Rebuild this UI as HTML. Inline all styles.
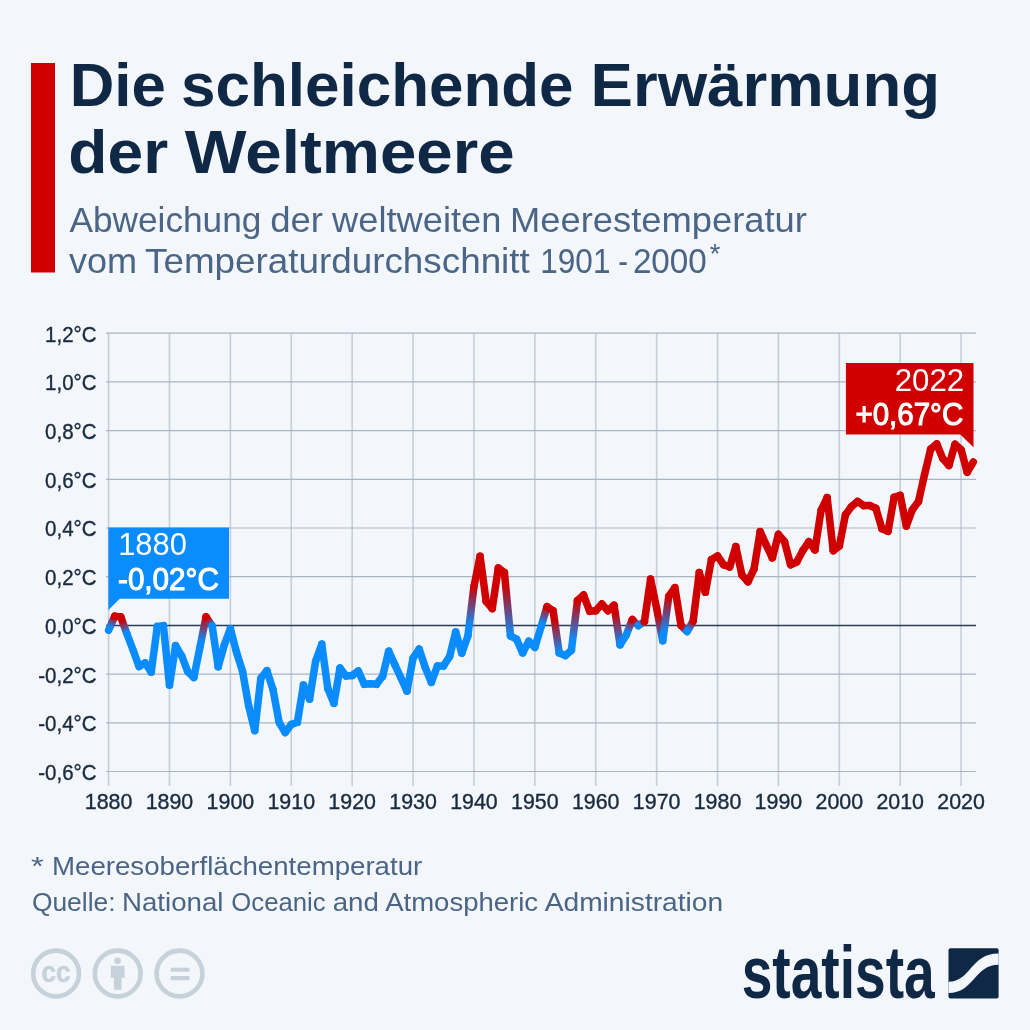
<!DOCTYPE html>
<html><head><meta charset="utf-8"><style>
html,body{margin:0;padding:0;background:#f3f6fa;width:1030px;height:1030px;overflow:hidden;font-family:"Liberation Sans",sans-serif;}
svg{display:block;will-change:transform}
</style></head><body>
<svg width="1030" height="1030" viewBox="0 0 1030 1030"><g stroke="#c6ced9" stroke-width="1.6"><line x1="108.6" y1="333" x2="108.6" y2="786"/><line x1="169.493" y1="333" x2="169.493" y2="786"/><line x1="230.386" y1="333" x2="230.386" y2="786"/><line x1="291.279" y1="333" x2="291.279" y2="786"/><line x1="352.172" y1="333" x2="352.172" y2="786"/><line x1="413.06499999999994" y1="333" x2="413.06499999999994" y2="786"/><line x1="473.95799999999997" y1="333" x2="473.95799999999997" y2="786"/><line x1="534.851" y1="333" x2="534.851" y2="786"/><line x1="595.744" y1="333" x2="595.744" y2="786"/><line x1="656.637" y1="333" x2="656.637" y2="786"/><line x1="717.53" y1="333" x2="717.53" y2="786"/><line x1="778.423" y1="333" x2="778.423" y2="786"/><line x1="839.316" y1="333" x2="839.316" y2="786"/><line x1="900.209" y1="333" x2="900.209" y2="786"/><line x1="961.102" y1="333" x2="961.102" y2="786"/></g>
<g stroke="#aab5c3" stroke-width="1.2"><line x1="106" y1="333.2" x2="976" y2="333.2"/><line x1="106" y1="381.9" x2="976" y2="381.9"/><line x1="106" y1="430.6" x2="976" y2="430.6"/><line x1="106" y1="479.3" x2="976" y2="479.3"/><line x1="106" y1="528.0" x2="976" y2="528.0"/><line x1="106" y1="576.7" x2="976" y2="576.7"/><line x1="106" y1="674.1" x2="976" y2="674.1"/><line x1="106" y1="722.8" x2="976" y2="722.8"/><line x1="106" y1="771.5" x2="976" y2="771.5"/></g>
<line x1="106" y1="625.4" x2="976" y2="625.4" stroke="#2b3d53" stroke-width="1.5"/>
<g font-family="Liberation Sans, sans-serif" font-size="22.5" fill="#1a2b40" stroke="#1a2b40" stroke-width="0.4"><text x="96.5" y="341.7" text-anchor="end" transform="translate(96.5 0) scale(0.91 1) translate(-96.5 0)">1,2°C</text><text x="96.5" y="390.4" text-anchor="end" transform="translate(96.5 0) scale(0.91 1) translate(-96.5 0)">1,0°C</text><text x="96.5" y="439.1" text-anchor="end" transform="translate(96.5 0) scale(0.91 1) translate(-96.5 0)">0,8°C</text><text x="96.5" y="487.8" text-anchor="end" transform="translate(96.5 0) scale(0.91 1) translate(-96.5 0)">0,6°C</text><text x="96.5" y="536.5" text-anchor="end" transform="translate(96.5 0) scale(0.91 1) translate(-96.5 0)">0,4°C</text><text x="96.5" y="585.2" text-anchor="end" transform="translate(96.5 0) scale(0.91 1) translate(-96.5 0)">0,2°C</text><text x="96.5" y="633.9" text-anchor="end" transform="translate(96.5 0) scale(0.91 1) translate(-96.5 0)">0,0°C</text><text x="96.5" y="682.6" text-anchor="end" transform="translate(96.5 0) scale(0.91 1) translate(-96.5 0)">-0,2°C</text><text x="96.5" y="731.3" text-anchor="end" transform="translate(96.5 0) scale(0.91 1) translate(-96.5 0)">-0,4°C</text><text x="96.5" y="780.0" text-anchor="end" transform="translate(96.5 0) scale(0.91 1) translate(-96.5 0)">-0,6°C</text><text x="108.60" y="809.4" text-anchor="middle" transform="translate(108.60 0) scale(0.951 1) translate(-108.60 0)">1880</text><text x="169.49" y="809.4" text-anchor="middle" transform="translate(169.49 0) scale(0.951 1) translate(-169.49 0)">1890</text><text x="230.39" y="809.4" text-anchor="middle" transform="translate(230.39 0) scale(0.951 1) translate(-230.39 0)">1900</text><text x="291.28" y="809.4" text-anchor="middle" transform="translate(291.28 0) scale(0.951 1) translate(-291.28 0)">1910</text><text x="352.17" y="809.4" text-anchor="middle" transform="translate(352.17 0) scale(0.951 1) translate(-352.17 0)">1920</text><text x="413.06" y="809.4" text-anchor="middle" transform="translate(413.06 0) scale(0.951 1) translate(-413.06 0)">1930</text><text x="473.96" y="809.4" text-anchor="middle" transform="translate(473.96 0) scale(0.951 1) translate(-473.96 0)">1940</text><text x="534.85" y="809.4" text-anchor="middle" transform="translate(534.85 0) scale(0.951 1) translate(-534.85 0)">1950</text><text x="595.74" y="809.4" text-anchor="middle" transform="translate(595.74 0) scale(0.951 1) translate(-595.74 0)">1960</text><text x="656.64" y="809.4" text-anchor="middle" transform="translate(656.64 0) scale(0.951 1) translate(-656.64 0)">1970</text><text x="717.53" y="809.4" text-anchor="middle" transform="translate(717.53 0) scale(0.951 1) translate(-717.53 0)">1980</text><text x="778.42" y="809.4" text-anchor="middle" transform="translate(778.42 0) scale(0.951 1) translate(-778.42 0)">1990</text><text x="839.32" y="809.4" text-anchor="middle" transform="translate(839.32 0) scale(0.951 1) translate(-839.32 0)">2000</text><text x="900.21" y="809.4" text-anchor="middle" transform="translate(900.21 0) scale(0.951 1) translate(-900.21 0)">2010</text><text x="961.10" y="809.4" text-anchor="middle" transform="translate(961.10 0) scale(0.951 1) translate(-961.10 0)">2020</text></g>
<defs><linearGradient id="g0" gradientUnits="userSpaceOnUse" x1="108.60" y1="630.27" x2="114.69" y2="616.15"><stop offset="0.2" stop-color="#0b8cfd"/><stop offset="1" stop-color="#d00000"/></linearGradient><linearGradient id="g1" gradientUnits="userSpaceOnUse" x1="120.78" y1="616.88" x2="126.87" y2="633.68"><stop offset="0.2" stop-color="#d00000"/><stop offset="1" stop-color="#0b8cfd"/></linearGradient><linearGradient id="g2" gradientUnits="userSpaceOnUse" x1="199.94" y1="647.31" x2="206.03" y2="616.88"><stop offset="0.2" stop-color="#0b8cfd"/><stop offset="1" stop-color="#d00000"/></linearGradient><linearGradient id="g3" gradientUnits="userSpaceOnUse" x1="206.03" y1="616.88" x2="212.12" y2="625.89"><stop offset="0.2" stop-color="#d00000"/><stop offset="1" stop-color="#0b8cfd"/></linearGradient><linearGradient id="g4" gradientUnits="userSpaceOnUse" x1="467.87" y1="636.11" x2="473.96" y2="586.44"><stop offset="0.2" stop-color="#0b8cfd"/><stop offset="1" stop-color="#d00000"/></linearGradient><linearGradient id="g5" gradientUnits="userSpaceOnUse" x1="504.40" y1="572.56" x2="510.49" y2="635.87"><stop offset="0.2" stop-color="#d00000"/><stop offset="1" stop-color="#0b8cfd"/></linearGradient><linearGradient id="g6" gradientUnits="userSpaceOnUse" x1="540.94" y1="627.10" x2="547.03" y2="606.65"><stop offset="0.2" stop-color="#0b8cfd"/><stop offset="1" stop-color="#d00000"/></linearGradient><linearGradient id="g7" gradientUnits="userSpaceOnUse" x1="553.12" y1="610.79" x2="559.21" y2="652.92"><stop offset="0.2" stop-color="#d00000"/><stop offset="1" stop-color="#0b8cfd"/></linearGradient><linearGradient id="g8" gradientUnits="userSpaceOnUse" x1="571.39" y1="650.24" x2="577.48" y2="600.56"><stop offset="0.2" stop-color="#0b8cfd"/><stop offset="1" stop-color="#d00000"/></linearGradient><linearGradient id="g9" gradientUnits="userSpaceOnUse" x1="614.01" y1="605.19" x2="620.10" y2="644.88"><stop offset="0.2" stop-color="#d00000"/><stop offset="1" stop-color="#0b8cfd"/></linearGradient><linearGradient id="g10" gradientUnits="userSpaceOnUse" x1="626.19" y1="635.14" x2="632.28" y2="619.56"><stop offset="0.2" stop-color="#0b8cfd"/><stop offset="1" stop-color="#d00000"/></linearGradient><linearGradient id="g11" gradientUnits="userSpaceOnUse" x1="632.28" y1="619.56" x2="638.37" y2="625.64"><stop offset="0.2" stop-color="#d00000"/><stop offset="1" stop-color="#0b8cfd"/></linearGradient><linearGradient id="g12" gradientUnits="userSpaceOnUse" x1="638.37" y1="625.64" x2="644.46" y2="621.50"><stop offset="0.2" stop-color="#0b8cfd"/><stop offset="1" stop-color="#d00000"/></linearGradient><linearGradient id="g13" gradientUnits="userSpaceOnUse" x1="656.64" y1="608.36" x2="662.73" y2="640.74"><stop offset="0.2" stop-color="#d00000"/><stop offset="1" stop-color="#0b8cfd"/></linearGradient><linearGradient id="g14" gradientUnits="userSpaceOnUse" x1="662.73" y1="640.74" x2="668.82" y2="596.18"><stop offset="0.2" stop-color="#0b8cfd"/><stop offset="1" stop-color="#d00000"/></linearGradient><linearGradient id="g15" gradientUnits="userSpaceOnUse" x1="680.99" y1="625.40" x2="687.08" y2="631.49"><stop offset="0.2" stop-color="#d00000"/><stop offset="1" stop-color="#0b8cfd"/></linearGradient><linearGradient id="g16" gradientUnits="userSpaceOnUse" x1="687.08" y1="631.49" x2="693.17" y2="621.02"><stop offset="0.2" stop-color="#0b8cfd"/><stop offset="1" stop-color="#d00000"/></linearGradient></defs>
<g stroke-width="7.5" stroke-linecap="round">
<line x1="108.60" y1="630.27" x2="114.69" y2="616.15" stroke="url(#g0)"/>
<line x1="114.69" y1="616.15" x2="120.78" y2="616.88" stroke="#d00000"/>
<line x1="120.78" y1="616.88" x2="126.87" y2="633.68" stroke="url(#g1)"/>
<line x1="126.87" y1="633.68" x2="132.96" y2="649.75" stroke="#0b8cfd"/>
<line x1="132.96" y1="649.75" x2="139.05" y2="666.55" stroke="#0b8cfd"/>
<line x1="139.05" y1="666.55" x2="145.14" y2="662.90" stroke="#0b8cfd"/>
<line x1="145.14" y1="662.90" x2="151.23" y2="672.15" stroke="#0b8cfd"/>
<line x1="151.23" y1="672.15" x2="157.31" y2="626.37" stroke="#0b8cfd"/>
<line x1="157.31" y1="626.37" x2="163.40" y2="625.64" stroke="#0b8cfd"/>
<line x1="163.40" y1="625.64" x2="169.49" y2="685.06" stroke="#0b8cfd"/>
<line x1="169.49" y1="685.06" x2="175.58" y2="645.61" stroke="#0b8cfd"/>
<line x1="175.58" y1="645.61" x2="181.67" y2="655.84" stroke="#0b8cfd"/>
<line x1="181.67" y1="655.84" x2="187.76" y2="671.66" stroke="#0b8cfd"/>
<line x1="187.76" y1="671.66" x2="193.85" y2="677.51" stroke="#0b8cfd"/>
<line x1="193.85" y1="677.51" x2="199.94" y2="647.31" stroke="#0b8cfd"/>
<line x1="199.94" y1="647.31" x2="206.03" y2="616.88" stroke="url(#g2)"/>
<line x1="206.03" y1="616.88" x2="212.12" y2="625.89" stroke="url(#g3)"/>
<line x1="212.12" y1="625.89" x2="218.21" y2="666.79" stroke="#0b8cfd"/>
<line x1="218.21" y1="666.79" x2="224.30" y2="644.88" stroke="#0b8cfd"/>
<line x1="224.30" y1="644.88" x2="230.39" y2="628.57" stroke="#0b8cfd"/>
<line x1="230.39" y1="628.57" x2="236.48" y2="652.18" stroke="#0b8cfd"/>
<line x1="236.48" y1="652.18" x2="242.56" y2="671.42" stroke="#0b8cfd"/>
<line x1="242.56" y1="671.42" x2="248.65" y2="705.75" stroke="#0b8cfd"/>
<line x1="248.65" y1="705.75" x2="254.74" y2="730.59" stroke="#0b8cfd"/>
<line x1="254.74" y1="730.59" x2="260.83" y2="678.24" stroke="#0b8cfd"/>
<line x1="260.83" y1="678.24" x2="266.92" y2="670.69" stroke="#0b8cfd"/>
<line x1="266.92" y1="670.69" x2="273.01" y2="689.68" stroke="#0b8cfd"/>
<line x1="273.01" y1="689.68" x2="279.10" y2="722.31" stroke="#0b8cfd"/>
<line x1="279.10" y1="722.31" x2="285.19" y2="732.54" stroke="#0b8cfd"/>
<line x1="285.19" y1="732.54" x2="291.28" y2="724.50" stroke="#0b8cfd"/>
<line x1="291.28" y1="724.50" x2="297.37" y2="722.31" stroke="#0b8cfd"/>
<line x1="297.37" y1="722.31" x2="303.46" y2="685.06" stroke="#0b8cfd"/>
<line x1="303.46" y1="685.06" x2="309.55" y2="699.18" stroke="#0b8cfd"/>
<line x1="309.55" y1="699.18" x2="315.64" y2="661.19" stroke="#0b8cfd"/>
<line x1="315.64" y1="661.19" x2="321.73" y2="644.15" stroke="#0b8cfd"/>
<line x1="321.73" y1="644.15" x2="327.81" y2="688.47" stroke="#0b8cfd"/>
<line x1="327.81" y1="688.47" x2="333.90" y2="703.32" stroke="#0b8cfd"/>
<line x1="333.90" y1="703.32" x2="339.99" y2="668.01" stroke="#0b8cfd"/>
<line x1="339.99" y1="668.01" x2="346.08" y2="676.05" stroke="#0b8cfd"/>
<line x1="346.08" y1="676.05" x2="352.17" y2="675.56" stroke="#0b8cfd"/>
<line x1="352.17" y1="675.56" x2="358.26" y2="670.93" stroke="#0b8cfd"/>
<line x1="358.26" y1="670.93" x2="364.35" y2="684.33" stroke="#0b8cfd"/>
<line x1="364.35" y1="684.33" x2="370.44" y2="683.84" stroke="#0b8cfd"/>
<line x1="370.44" y1="683.84" x2="376.53" y2="684.33" stroke="#0b8cfd"/>
<line x1="376.53" y1="684.33" x2="382.62" y2="676.29" stroke="#0b8cfd"/>
<line x1="382.62" y1="676.29" x2="388.71" y2="651.21" stroke="#0b8cfd"/>
<line x1="388.71" y1="651.21" x2="394.80" y2="664.60" stroke="#0b8cfd"/>
<line x1="394.80" y1="664.60" x2="400.89" y2="677.75" stroke="#0b8cfd"/>
<line x1="400.89" y1="677.75" x2="406.98" y2="691.14" stroke="#0b8cfd"/>
<line x1="406.98" y1="691.14" x2="413.06" y2="658.03" stroke="#0b8cfd"/>
<line x1="413.06" y1="658.03" x2="419.15" y2="649.02" stroke="#0b8cfd"/>
<line x1="419.15" y1="649.02" x2="425.24" y2="667.53" stroke="#0b8cfd"/>
<line x1="425.24" y1="667.53" x2="431.33" y2="682.38" stroke="#0b8cfd"/>
<line x1="431.33" y1="682.38" x2="437.42" y2="666.06" stroke="#0b8cfd"/>
<line x1="437.42" y1="666.06" x2="443.51" y2="666.06" stroke="#0b8cfd"/>
<line x1="443.51" y1="666.06" x2="449.60" y2="656.57" stroke="#0b8cfd"/>
<line x1="449.60" y1="656.57" x2="455.69" y2="631.97" stroke="#0b8cfd"/>
<line x1="455.69" y1="631.97" x2="461.78" y2="653.16" stroke="#0b8cfd"/>
<line x1="461.78" y1="653.16" x2="467.87" y2="636.11" stroke="#0b8cfd"/>
<line x1="467.87" y1="636.11" x2="473.96" y2="586.44" stroke="url(#g4)"/>
<line x1="473.96" y1="586.44" x2="480.05" y2="556.25" stroke="#d00000"/>
<line x1="480.05" y1="556.25" x2="486.14" y2="601.29" stroke="#d00000"/>
<line x1="486.14" y1="601.29" x2="492.23" y2="608.60" stroke="#d00000"/>
<line x1="492.23" y1="608.60" x2="498.32" y2="567.93" stroke="#d00000"/>
<line x1="498.32" y1="567.93" x2="504.40" y2="572.56" stroke="#d00000"/>
<line x1="504.40" y1="572.56" x2="510.49" y2="635.87" stroke="url(#g5)"/>
<line x1="510.49" y1="635.87" x2="516.58" y2="639.28" stroke="#0b8cfd"/>
<line x1="516.58" y1="639.28" x2="522.67" y2="652.92" stroke="#0b8cfd"/>
<line x1="522.67" y1="652.92" x2="528.76" y2="641.23" stroke="#0b8cfd"/>
<line x1="528.76" y1="641.23" x2="534.85" y2="647.31" stroke="#0b8cfd"/>
<line x1="534.85" y1="647.31" x2="540.94" y2="627.10" stroke="#0b8cfd"/>
<line x1="540.94" y1="627.10" x2="547.03" y2="606.65" stroke="url(#g6)"/>
<line x1="547.03" y1="606.65" x2="553.12" y2="610.79" stroke="#d00000"/>
<line x1="553.12" y1="610.79" x2="559.21" y2="652.92" stroke="url(#g7)"/>
<line x1="559.21" y1="652.92" x2="565.30" y2="655.59" stroke="#0b8cfd"/>
<line x1="565.30" y1="655.59" x2="571.39" y2="650.24" stroke="#0b8cfd"/>
<line x1="571.39" y1="650.24" x2="577.48" y2="600.56" stroke="url(#g8)"/>
<line x1="577.48" y1="600.56" x2="583.57" y2="594.96" stroke="#d00000"/>
<line x1="583.57" y1="594.96" x2="589.65" y2="611.28" stroke="#d00000"/>
<line x1="589.65" y1="611.28" x2="595.74" y2="610.79" stroke="#d00000"/>
<line x1="595.74" y1="610.79" x2="601.83" y2="603.97" stroke="#d00000"/>
<line x1="601.83" y1="603.97" x2="607.92" y2="610.79" stroke="#d00000"/>
<line x1="607.92" y1="610.79" x2="614.01" y2="605.19" stroke="#d00000"/>
<line x1="614.01" y1="605.19" x2="620.10" y2="644.88" stroke="url(#g9)"/>
<line x1="620.10" y1="644.88" x2="626.19" y2="635.14" stroke="#0b8cfd"/>
<line x1="626.19" y1="635.14" x2="632.28" y2="619.56" stroke="url(#g10)"/>
<line x1="632.28" y1="619.56" x2="638.37" y2="625.64" stroke="url(#g11)"/>
<line x1="638.37" y1="625.64" x2="644.46" y2="621.50" stroke="url(#g12)"/>
<line x1="644.46" y1="621.50" x2="650.55" y2="579.13" stroke="#d00000"/>
<line x1="650.55" y1="579.13" x2="656.64" y2="608.36" stroke="#d00000"/>
<line x1="656.64" y1="608.36" x2="662.73" y2="640.74" stroke="url(#g13)"/>
<line x1="662.73" y1="640.74" x2="668.82" y2="596.18" stroke="url(#g14)"/>
<line x1="668.82" y1="596.18" x2="674.90" y2="587.66" stroke="#d00000"/>
<line x1="674.90" y1="587.66" x2="680.99" y2="625.40" stroke="#d00000"/>
<line x1="680.99" y1="625.40" x2="687.08" y2="631.49" stroke="url(#g15)"/>
<line x1="687.08" y1="631.49" x2="693.17" y2="621.02" stroke="url(#g16)"/>
<line x1="693.17" y1="621.02" x2="699.26" y2="572.56" stroke="#d00000"/>
<line x1="699.26" y1="572.56" x2="705.35" y2="592.28" stroke="#d00000"/>
<line x1="705.35" y1="592.28" x2="711.44" y2="559.65" stroke="#d00000"/>
<line x1="711.44" y1="559.65" x2="717.53" y2="556.00" stroke="#d00000"/>
<line x1="717.53" y1="556.00" x2="723.62" y2="564.77" stroke="#d00000"/>
<line x1="723.62" y1="564.77" x2="729.71" y2="566.96" stroke="#d00000"/>
<line x1="729.71" y1="566.96" x2="735.80" y2="546.51" stroke="#d00000"/>
<line x1="735.80" y1="546.51" x2="741.89" y2="575.00" stroke="#d00000"/>
<line x1="741.89" y1="575.00" x2="747.98" y2="581.81" stroke="#d00000"/>
<line x1="747.98" y1="581.81" x2="754.07" y2="568.91" stroke="#d00000"/>
<line x1="754.07" y1="568.91" x2="760.16" y2="531.65" stroke="#d00000"/>
<line x1="760.16" y1="531.65" x2="766.24" y2="545.04" stroke="#d00000"/>
<line x1="766.24" y1="545.04" x2="772.33" y2="557.95" stroke="#d00000"/>
<line x1="772.33" y1="557.95" x2="778.42" y2="534.33" stroke="#d00000"/>
<line x1="778.42" y1="534.33" x2="784.51" y2="541.64" stroke="#d00000"/>
<line x1="784.51" y1="541.64" x2="790.60" y2="564.77" stroke="#d00000"/>
<line x1="790.60" y1="564.77" x2="796.69" y2="562.09" stroke="#d00000"/>
<line x1="796.69" y1="562.09" x2="802.78" y2="550.65" stroke="#d00000"/>
<line x1="802.78" y1="550.65" x2="808.87" y2="541.64" stroke="#d00000"/>
<line x1="808.87" y1="541.64" x2="814.96" y2="549.91" stroke="#d00000"/>
<line x1="814.96" y1="549.91" x2="821.05" y2="510.47" stroke="#d00000"/>
<line x1="821.05" y1="510.47" x2="827.14" y2="497.56" stroke="#d00000"/>
<line x1="827.14" y1="497.56" x2="833.23" y2="550.65" stroke="#d00000"/>
<line x1="833.23" y1="550.65" x2="839.32" y2="546.02" stroke="#d00000"/>
<line x1="839.32" y1="546.02" x2="845.41" y2="514.85" stroke="#d00000"/>
<line x1="845.41" y1="514.85" x2="851.49" y2="506.57" stroke="#d00000"/>
<line x1="851.49" y1="506.57" x2="857.58" y2="501.46" stroke="#d00000"/>
<line x1="857.58" y1="501.46" x2="863.67" y2="505.60" stroke="#d00000"/>
<line x1="863.67" y1="505.60" x2="869.76" y2="505.60" stroke="#d00000"/>
<line x1="869.76" y1="505.60" x2="875.85" y2="508.28" stroke="#d00000"/>
<line x1="875.85" y1="508.28" x2="881.94" y2="528.73" stroke="#d00000"/>
<line x1="881.94" y1="528.73" x2="888.03" y2="531.41" stroke="#d00000"/>
<line x1="888.03" y1="531.41" x2="894.12" y2="497.32" stroke="#d00000"/>
<line x1="894.12" y1="497.32" x2="900.21" y2="495.37" stroke="#d00000"/>
<line x1="900.21" y1="495.37" x2="906.30" y2="526.05" stroke="#d00000"/>
<line x1="906.30" y1="526.05" x2="912.39" y2="509.74" stroke="#d00000"/>
<line x1="912.39" y1="509.74" x2="918.48" y2="501.46" stroke="#d00000"/>
<line x1="918.48" y1="501.46" x2="924.57" y2="474.43" stroke="#d00000"/>
<line x1="924.57" y1="474.43" x2="930.66" y2="449.11" stroke="#d00000"/>
<line x1="930.66" y1="449.11" x2="936.74" y2="443.99" stroke="#d00000"/>
<line x1="936.74" y1="443.99" x2="942.83" y2="458.60" stroke="#d00000"/>
<line x1="942.83" y1="458.60" x2="948.92" y2="465.42" stroke="#d00000"/>
<line x1="948.92" y1="465.42" x2="955.01" y2="444.24" stroke="#d00000"/>
<line x1="955.01" y1="444.24" x2="961.10" y2="449.84" stroke="#d00000"/>
<line x1="961.10" y1="449.84" x2="967.19" y2="472.24" stroke="#d00000"/>
<line x1="967.19" y1="472.24" x2="973.28" y2="462.01" stroke="#d00000"/>
</g>
<path d="M108.4,527.4 H229 V598.7 H119.8 L108.4,610 Z" fill="#0b8cfd"/>
<path d="M845.9,363 H973.5 V447.2 L960.3,434.4 H845.9 Z" fill="#d00000"/>
<text id="a1880" x="118.20" y="554.90" font-family="Liberation Sans, sans-serif" font-size="32" fill="#fff" textLength="68.72" lengthAdjust="spacingAndGlyphs">1880</text>
<text id="a002" x="118.00" y="589.70" font-family="Liberation Sans, sans-serif" font-size="32" fill="#fff" textLength="100.88" lengthAdjust="spacingAndGlyphs" stroke="#fff" stroke-width="1.1">-0,02°C</text>
<text id="a2022" x="964.20" y="390.60" text-anchor="end" font-family="Liberation Sans, sans-serif" font-size="32" fill="#fff" textLength="69.48" lengthAdjust="spacingAndGlyphs">2022</text>
<text id="a067" x="963.20" y="425.00" text-anchor="end" font-family="Liberation Sans, sans-serif" font-size="32" fill="#fff" textLength="107.79" lengthAdjust="spacingAndGlyphs" stroke="#fff" stroke-width="1.1">+0,67°C</text>
<rect x="31" y="63" width="24" height="209.5" fill="#d00000"/>
<text id="title1_0" x="69.75" y="106.30" font-family="Liberation Sans, sans-serif" font-size="62" font-weight="bold" fill="#0f2845" textLength="96.09" lengthAdjust="spacingAndGlyphs">Die</text>
<text id="title1_1" x="181.10" y="106.30" font-family="Liberation Sans, sans-serif" font-size="62" font-weight="bold" fill="#0f2845" textLength="392.43" lengthAdjust="spacingAndGlyphs">schleichende</text>
<text id="title1_2" x="590.60" y="106.30" font-family="Liberation Sans, sans-serif" font-size="62" font-weight="bold" fill="#0f2845" textLength="349.44" lengthAdjust="spacingAndGlyphs">Erwärmung</text>
<text id="title2_0" x="68.30" y="172.90" font-family="Liberation Sans, sans-serif" font-size="62" font-weight="bold" fill="#0f2845" textLength="99.79" lengthAdjust="spacingAndGlyphs">der</text>
<text id="title2_1" x="184.70" y="172.90" font-family="Liberation Sans, sans-serif" font-size="62" font-weight="bold" fill="#0f2845" textLength="329.99" lengthAdjust="spacingAndGlyphs">Weltmeere</text>
<text id="sub1_0" x="69.40" y="231.70" font-family="Liberation Sans, sans-serif" font-size="35.5" fill="#4a6586" textLength="192.03" lengthAdjust="spacingAndGlyphs">Abweichung</text>
<text id="sub1_1" x="270.20" y="231.70" font-family="Liberation Sans, sans-serif" font-size="35.5" fill="#4a6586" textLength="52.80" lengthAdjust="spacingAndGlyphs">der</text>
<text id="sub1_2" x="332.10" y="231.70" font-family="Liberation Sans, sans-serif" font-size="35.5" fill="#4a6586" textLength="169.22" lengthAdjust="spacingAndGlyphs">weltweiten</text>
<text id="sub1_3" x="510.00" y="231.70" font-family="Liberation Sans, sans-serif" font-size="35.5" fill="#4a6586" textLength="296.92" lengthAdjust="spacingAndGlyphs">Meerestemperatur</text>
<text id="sub2_0" x="69.00" y="272.90" font-family="Liberation Sans, sans-serif" font-size="35.5" fill="#4a6586" textLength="68.11" lengthAdjust="spacingAndGlyphs">vom</text>
<text id="sub2_1" x="145.00" y="272.90" font-family="Liberation Sans, sans-serif" font-size="35.5" fill="#4a6586" textLength="384.75" lengthAdjust="spacingAndGlyphs">Temperaturdurchschnitt</text>
<text id="sub2_2" x="540.30" y="272.90" font-family="Liberation Sans, sans-serif" font-size="35.5" fill="#4a6586" textLength="70.15" lengthAdjust="spacingAndGlyphs">1901</text>
<text id="sub2_3" x="618.30" y="272.90" font-family="Liberation Sans, sans-serif" font-size="35.5" fill="#4a6586" textLength="9.69" lengthAdjust="spacingAndGlyphs">-</text>
<text id="sub2_4" x="632.90" y="272.90" font-family="Liberation Sans, sans-serif" font-size="35.5" fill="#4a6586" textLength="73.91" lengthAdjust="spacingAndGlyphs">2000</text>
<text id="foot1_0" x="31.10" y="875.20" font-family="Liberation Sans, sans-serif" font-size="26" fill="#4a6586" textLength="12.71" lengthAdjust="spacingAndGlyphs">*</text>
<text id="foot1_1" x="52.00" y="875.20" font-family="Liberation Sans, sans-serif" font-size="26" fill="#4a6586" textLength="370.25" lengthAdjust="spacingAndGlyphs">Meeresoberflächentemperatur</text>
<text id="foot2_0" x="31.90" y="910.60" font-family="Liberation Sans, sans-serif" font-size="26" fill="#4a6586" textLength="83.66" lengthAdjust="spacingAndGlyphs">Quelle:</text>
<text id="foot2_1" x="122.00" y="910.60" font-family="Liberation Sans, sans-serif" font-size="26" fill="#4a6586" textLength="101.43" lengthAdjust="spacingAndGlyphs">National</text>
<text id="foot2_2" x="231.30" y="910.60" font-family="Liberation Sans, sans-serif" font-size="26" fill="#4a6586" textLength="94.39" lengthAdjust="spacingAndGlyphs">Oceanic</text>
<text id="foot2_3" x="332.70" y="910.60" font-family="Liberation Sans, sans-serif" font-size="26" fill="#4a6586" textLength="46.17" lengthAdjust="spacingAndGlyphs">and</text>
<text id="foot2_4" x="385.20" y="910.60" font-family="Liberation Sans, sans-serif" font-size="26" fill="#4a6586" textLength="152.95" lengthAdjust="spacingAndGlyphs">Atmospheric</text>
<text id="foot2_5" x="544.70" y="910.60" font-family="Liberation Sans, sans-serif" font-size="26" fill="#4a6586" textLength="178.49" lengthAdjust="spacingAndGlyphs">Administration</text>
<text x="715" y="262.9" text-anchor="middle" font-family="Liberation Sans, sans-serif" font-size="27" fill="#4a6586">*</text>
<g fill="none" stroke="#c6d1da" stroke-width="4.6"><circle cx="56.1" cy="973.5" r="22.9"/><circle cx="117.7" cy="973.5" r="22.9"/><circle cx="179.5" cy="973.5" r="22.9"/></g>
<text x="56" y="981.5" text-anchor="middle" font-family="Liberation Sans, sans-serif" font-size="29" font-weight="bold" fill="#c6d1da" stroke="#c6d1da" stroke-width="0.6" textLength="29" lengthAdjust="spacingAndGlyphs">cc</text>
<g fill="#c6d1da"><circle cx="117.6" cy="960.7" r="3.3"/><rect x="110.8" y="965.8" width="13.8" height="12"/><rect x="113.9" y="970" width="7.6" height="19.8"/><rect x="170.7" y="967.7" width="18.8" height="4"/><rect x="170.7" y="976" width="18.8" height="4.2"/></g>
<text x="741.7" y="997.9" font-family="Liberation Sans, sans-serif" font-size="75" font-weight="bold" fill="#0f2845" textLength="193" lengthAdjust="spacingAndGlyphs">statista</text>
<g transform="translate(948.5,948.3)"><rect width="50.1" height="50.1" rx="2" fill="#0f2845"/><path d="M0,33.5 C22.5,33.5 22,5.3 50.1,5.3 L50.1,16.4 C26,16.4 25.5,44.7 0,44.7 Z" fill="#f3f6fa"/></g></svg>
</body></html>
